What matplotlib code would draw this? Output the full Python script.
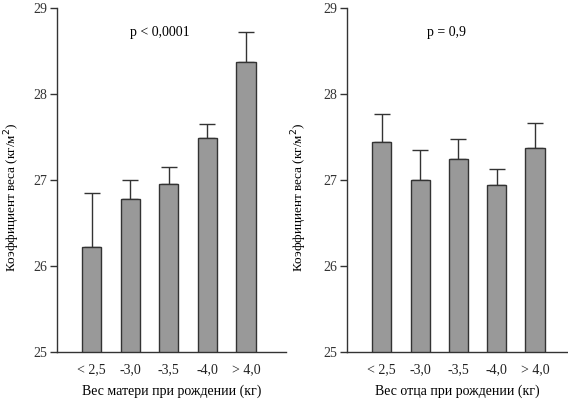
import numpy as np
import matplotlib.pyplot as plt

plt.rcParams['font.family'] = ['Liberation Serif', 'DejaVu Serif']

categories = ['< 2,5', '-3,0', '-3,5', '-4,0', '> 4,0']
mother_vals = [26.22, 26.78, 26.96, 27.49, 28.37]
mother_err = [0.63, 0.22, 0.19, 0.16, 0.36]
father_vals = [27.44, 27.00, 27.25, 26.95, 27.38]
father_err = [0.33, 0.35, 0.23, 0.18, 0.29]

fig = plt.figure(figsize=(5.68, 3.99), dpi=100)
ax1 = fig.add_axes([57/568, 1-352.3/399, 229/568, 344/399])
ax2 = fig.add_axes([347.3/568, 1-352.3/399, (568-347.3)/568, 344/399])

def draw(ax, vals, err, xlabel, ptext, xmax, ylab_x):
    x = np.arange(len(vals))
    ax.bar(x, vals, width=0.5, bottom=0, color='#999999', edgecolor='#333333',
           linewidth=1.0, zorder=2)
    ax.errorbar(x, vals, yerr=[np.zeros(len(err)), err], fmt='none',
                ecolor='#333333', elinewidth=1.0, capsize=5.5, capthick=1.0, zorder=1)
    ax.set_ylim(25, 29)
    ax.set_xlim(-0.9, xmax)
    ax.set_yticks([25, 26, 27, 28, 29])
    ax.set_xticks(x)
    ax.set_xticklabels(categories)
    ax.tick_params(axis='x', length=0, pad=8, labelsize=10, labelcolor='#222222')
    ax.tick_params(axis='y', direction='out', length=5, width=1, pad=2,
                   labelsize=10, labelcolor='#333333', color='#333333')
    for s in ['top', 'right']:
        ax.spines[s].set_visible(False)
    for s in ['left', 'bottom']:
        ax.spines[s].set_color('#333333')
        ax.spines[s].set_linewidth(1.0)
    ax.set_xlabel(xlabel, fontsize=10, labelpad=6)
    ax.set_ylabel('Коэффициент веса (кг/м$^2$)', fontsize=9.5)
    ax.yaxis.set_label_coords(ylab_x, 0.45)
    ax.text(0.45, 0.93, ptext, transform=ax.transAxes, ha='center', va='center',
            fontsize=10)

draw(ax1, mother_vals, mother_err, 'Вес матери при рождении (кг)', 'p < 0,0001', 5.04, -0.155)
draw(ax2, father_vals, father_err, 'Вес отца при рождении (кг)', 'p = 0,9', 4.86, -0.172)

fig.savefig('out.png', dpi=100)
